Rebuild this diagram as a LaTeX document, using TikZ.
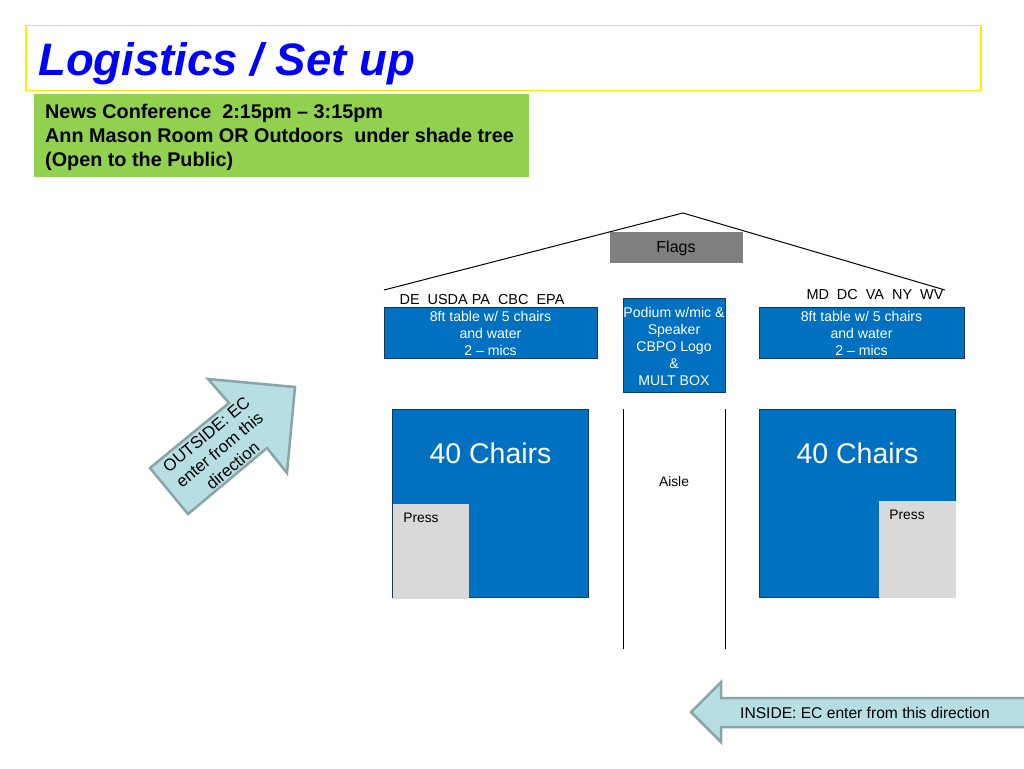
\documentclass[tikz,border=0pt]{standalone}
\usepackage{fontspec}
\setmainfont{Liberation Sans}
\definecolor{blu}{HTML}{0070C0}
\definecolor{edge}{HTML}{17375E}
\definecolor{grn}{HTML}{92D050}
\definecolor{arrfill}{HTML}{B7DEE2}
\definecolor{arredge}{HTML}{8AA5A8}
\definecolor{flag}{HTML}{7F7F7F}
\definecolor{press}{HTML}{D9D9D9}
\tikzset{
  box/.style={draw=edge,line width=1pt,fill=blu,text=white,inner sep=0pt,align=center},
  lab/.style={inner sep=0pt,font=\fontsize{14.1}{17}\selectfont,align=center},
  toplab/.style={inner sep=0pt,font=\fontsize{14.45}{17}\selectfont,anchor=base},
  bigchairs/.style={inner sep=0pt,font=\fontsize{28.5}{34}\selectfont,text=white},
  presslab/.style={inner sep=0pt,font=\fontsize{13.8}{16}\selectfont},
  arrowshape/.style={draw=arredge,line width=2.5pt,fill=arrfill,line join=miter},
  wall/.style={draw=black,line width=1pt}
}
\begin{document}
\begin{tikzpicture}[x=1pt,y=-1pt]
\useasboundingbox[fill=white] (0,0) rectangle (1024,768);
% title
\node[draw=yellow!95!orange,line width=1.2pt,minimum width=955pt,minimum height=65pt,inner sep=0pt] (titlebox) at (503.5,58) {};
\node[anchor=base west,inner sep=0pt,text=blue,font=\fontsize{45.5}{50}\selectfont\bfseries\itshape] (title) at (38,75) {Logistics / Set up};
% green
\node[fill=grn,minimum width=495pt,minimum height=83pt,inner sep=0pt] (news) at (281.5,135.5) {};
\node[anchor=north west,inner sep=0pt,align=left,font=\fontsize{19.8}{24}\selectfont\bfseries] (newstext) at (45,104) {News Conference\ \ 2:15pm -- 3:15pm\\Ann Mason Room OR Outdoors\ \ under shade tree\\(Open to the Public)};
% roof
\coordinate (roofL) at (384,290);
\coordinate (roofT) at (683,213);
\coordinate (roofR) at (945,290);
\draw[wall] (roofL) -- (roofT) -- (roofR);
% flags
\node[fill=flag,minimum width=133pt,minimum height=31pt,inner sep=0pt] (flags) at (676,247.3) {};
\node[inner sep=0pt,font=\fontsize{16}{19}\selectfont] (flagst) at (676,248) {Flags};
% labels
\node[toplab] (left) at (482,304) {DE\ \ USDA PA\ \ CBC\ \ EPA};
\node[toplab] (right) at (875,299) {MD\ \ DC\ \ VA\ \ NY\ \ WV};
% tables
\node[box,minimum width=213pt,minimum height=51pt] (tL) at (490.5,333) {};
\node[lab,text=white,anchor=center] (tLt) at (490.5,333.3) {8ft table w/ 5 chairs\\and water\\2 -- mics};
\node[box,minimum width=205pt,minimum height=51pt] (tR) at (861.5,333) {};
\node[lab,text=white,anchor=center] (tRt) at (861.5,333.3) {8ft table w/ 5 chairs\\and water\\2 -- mics};
\node[box,minimum width=102pt,minimum height=94pt] (pod) at (674,345.5) {};
\node[lab,text=white,anchor=center] (podt) at (674,346) {Podium w/mic \&\\Speaker\\CBPO Logo\\\&\\MULT BOX};
% chairs
\node[box,minimum width=196pt,minimum height=188pt] (cL) at (490.5,503.5) {};
\node[box,minimum width=196pt,minimum height=188pt] (cR) at (857.5,503.5) {};
\node[bigchairs] (cLt) at (490.5,453) {40 Chairs};
\node[bigchairs] (cRt) at (857.5,453) {40 Chairs};
\node[fill=press,minimum width=76pt,minimum height=95pt,inner sep=0pt] (pL) at (431,551) {};
\node[fill=press,minimum width=77pt,minimum height=97pt,inner sep=0pt] (pR) at (917.5,549) {};
\node[presslab] (pLt) at (421,518) {Press};
\node[presslab] (pRt) at (907,515) {Press};
% aisle
\coordinate (a1t) at (623,409);
\coordinate (a1b) at (623,649);
\coordinate (a2t) at (725.5,409);
\coordinate (a2b) at (725.5,649);
\draw[wall] (a1t) -- (a1b);
\draw[wall] (a2t) -- (a2b);
\node[presslab] (aisle) at (674,482) {Aisle};
% arrows
\draw[arrowshape] (295,387) -- (208,379) -- (229,403) -- (150,468) -- (188,514) -- (267,448) -- (287,473) -- cycle;
\node[lab,rotate=40,font=\fontsize{16.8}{20.5}\selectfont] (out) at (219.5,450) {OUTSIDE: EC\\enter from this\\direction};
\draw[arrowshape] (1026,698) -- (721,698) -- (721,682) -- (691,712) -- (721,742) -- (721,727) -- (1026,727) -- cycle;
\node[lab,font=\fontsize{15.6}{18}\selectfont] (ins) at (865,713) {INSIDE: EC enter from this direction};
\end{tikzpicture}
\end{document}
